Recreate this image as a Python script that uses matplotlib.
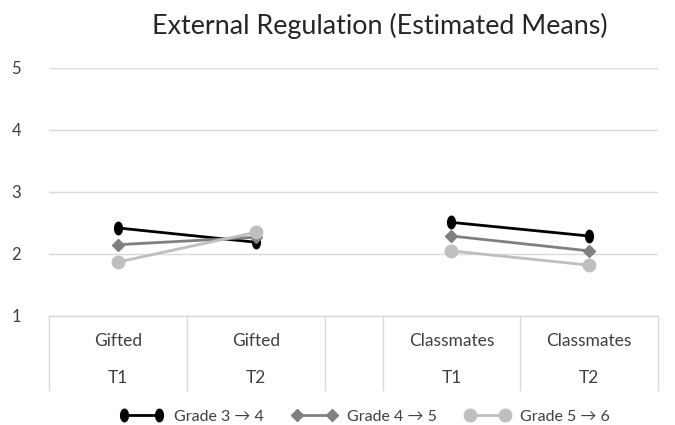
import matplotlib
matplotlib.use("Agg")
import matplotlib.pyplot as plt
import matplotlib.transforms as mtransforms
from matplotlib.path import Path
from matplotlib.lines import Line2D
import numpy as np

plt.rcParams['font.family'] = ['Lato', 'DejaVu Sans']

# categories on the two-level axis; the empty one is a narrow spacer
groups = ["Gifted", "Gifted", "", "Classmates", "Classmates"]
times = ["T1", "T2", "", "T1", "T2"]
widths = [1, 1, 0.42, 1, 1]

series_names = ["Grade 3 \u2192 4", "Grade 4 \u2192 5", "Grade 5 \u2192 6"]
grade34 = [2.42, 2.19, np.nan, 2.51, 2.29]
grade45 = [2.15, 2.27, np.nan, 2.29, 2.05]
grade56 = [1.87, 2.35, np.nan, 2.05, 1.82]

yticks = [1, 2, 3, 4, 5]

edges = np.concatenate([[0], np.cumsum(widths)])
centers = (edges[:-1] + edges[1:]) / 2

# tall oval marker for the first series
oval = Path.unit_circle().transformed(mtransforms.Affine2D().scale(0.62, 1.0))

fig = plt.figure(figsize=(6.75, 4.25), dpi=100)
ax = fig.add_axes([0.0726, 0.2565, 0.9024, 0.5835])

text_col = "#404040"
grid_col = "#d9d9d9"

styles = [
    dict(color="black", marker=oval, markersize=9),
    dict(color="#808080", marker="D", markersize=6),
    dict(color="#bfbfbf", marker="o", markersize=9),
]
for name, vals, st in zip(series_names, [grade34, grade45, grade56], styles):
    ax.plot(centers, vals, color=st["color"], lw=2, marker=st["marker"],
            markersize=st["markersize"], markerfacecolor=st["color"],
            markeredgecolor=st["color"], label=name, zorder=3)

ax.set_xlim(edges[0], edges[-1])
ax.set_ylim(1, 5)
ax.set_yticks(yticks)
ax.set_yticklabels([str(t) for t in yticks])
ax.tick_params(axis="y", length=0, pad=20, labelsize=12, labelcolor=text_col)
ax.set_xticks([])
ax.grid(axis="y", color=grid_col, lw=1)
ax.set_axisbelow(True)
for s in ["top", "right", "left"]:
    ax.spines[s].set_visible(False)
ax.spines["bottom"].set_color(grid_col)
ax.spines["bottom"].set_linewidth(1)

# category boxes below the plot area
trans = mtransforms.blended_transform_factory(ax.transData, ax.transAxes)
for e in edges:
    ax.plot([e, e], [0, -0.298], color=grid_col, lw=1, transform=trans,
            clip_on=False)
for c, g, t in zip(centers, groups, times):
    ax.text(c, -0.10, g, transform=trans, ha="center", va="center",
            fontsize=12.5, color=text_col)
    ax.text(c, -0.25, t, transform=trans, ha="center", va="center",
            fontsize=12.5, color=text_col)

fig.text(0.563, 0.94, "External Regulation (Estimated Means)",
         ha="center", va="center", fontsize=19.4, color="#262626")

handles = []
for name, st in zip(series_names, styles):
    handles.append(Line2D([0], [0], color=st["color"], lw=2, marker=st["marker"],
                          markersize=st["markersize"],
                          markerfacecolor=st["color"],
                          markeredgecolor=st["color"]))
fig.legend(handles, series_names, loc="center", ncol=3,
           bbox_to_anchor=(0.54, 0.019), frameon=False, numpoints=2,
           handlelength=2.8, columnspacing=1.8, handletextpad=0.6,
           prop=dict(size=11.5), labelcolor=text_col)

fig.savefig("out.png", dpi=100)
